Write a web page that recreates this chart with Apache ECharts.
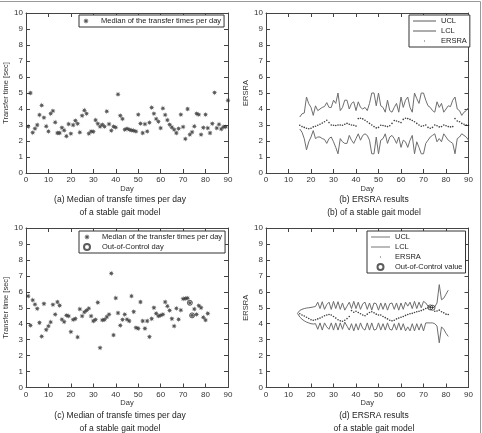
<!DOCTYPE html>
<html>
<head>
<meta charset="utf-8">
<script src="https://cdn.jsdelivr.net/npm/echarts@6/dist/echarts.min.js"></script>
<style>
html, body { margin: 0; padding: 0; background: #fff; }
#chart { width: 482px; height: 433px; }
</style>
</head>
<body>
<div id="chart"></div>
<script>
// (a) median transfer time per day, days 1..90
var medianA = [2.9, 5.0, 2.52, 2.77, 3.0, 3.63, 4.23, 3.46, 2.92, 2.6,
	3.71, 3.88, 3.17, 2.5, 2.5, 2.83, 2.67, 2.3, 3.06, 2.46,
	3.0, 3.27, 3.08, 2.54, 3.58, 3.92, 3.71, 2.46, 2.6, 2.58,
	3.31, 3.08, 2.9, 3.02, 2.9, 3.85, 3.06, 2.65, 2.9, 2.85,
	4.92, 3.58, 3.38, 2.71, 2.77, 2.71, 2.67, 2.65, 2.6, 3.65,
	3.09, 2.5, 3.06, 2.6, 3.15, 4.09, 3.71, 3.38, 3.21, 2.81,
	4.04, 3.63, 3.31, 3.02, 2.86, 2.71, 2.5, 2.77, 3.65, 2.88,
	2.13, 4.0, 2.4, 2.56, 2.92, 3.71, 3.65, 2.4, 2.83, 3.65,
	2.81, 2.5, 3.08, 5.02, 2.81, 3.04, 2.75, 2.88, 2.88, 4.54];
var startA = 1;

// (b) ERSRA results, days 15..90
var startB = 15;
var uclB = [3.5, 3.7, 3.75, 4.75, 4.33, 4.1, 3.6, 4.2, 3.9, 4.0,
	4.1, 4.15, 4.4, 4.1, 4.1, 4.55, 4.35, 5.0, 3.9, 4.1,
	4.55, 4.55, 4.0, 4.35, 4.45, 3.9, 4.45, 4.1, 4.0, 4.1,
	3.9, 4.35, 5.0, 5.0, 4.2, 5.0, 4.2, 4.1, 3.8, 4.55,
	3.9, 3.8, 4.1, 4.35, 3.8, 4.75, 4.1, 4.55, 4.75, 4.1,
	3.8, 5.0, 4.65, 4.35, 5.0, 5.0, 4.55, 4.2, 4.1, 3.9,
	3.8, 4.45, 4.1, 4.35, 3.8, 4.0, 4.2, 4.15, 4.55, 4.75,
	4.0, 3.9, 3.6, 3.8, 3.9, 4.1];
var lclB = [2.75, 2.55, 2.15, 1.45, 1.95, 2.25, 2.65, 2.15, 2.25, 2.25,
	2.15, 2.1, 1.85, 2.15, 2.25, 1.95, 1.6, 1.2, 2.15, 1.95,
	1.85, 1.85, 2.35, 2.05, 1.85, 2.15, 2.45, 2.05, 2.35, 2.45,
	2.35, 2.05, 1.2, 1.2, 2.25, 1.2, 2.05, 2.15, 2.45, 1.85,
	2.25, 2.35, 2.15, 1.85, 2.25, 1.6, 2.05, 1.95, 1.6, 2.05,
	2.35, 1.2, 1.95, 1.6, 1.2, 1.2, 1.85, 2.05, 2.25, 2.35,
	2.45, 1.95, 2.15, 1.95, 2.45, 2.25, 2.05, 1.95, 1.85, 1.2,
	2.15, 2.25, 2.45, 2.35, 2.25, 2.05];
var ersraB = [2.98, 2.9, 2.85, 2.8, 2.77, 2.8, 2.88, 2.92, 2.98, 3.05,
	3.12, 3.2, 3.3, 3.15, 3.0, 2.98, 2.97, 3.0, 3.0, 2.98,
	3.05, 3.1, 3.05, 3.0, 2.98, 2.93, 3.4, 3.42, 3.38, 3.3,
	3.2, 3.1, 3.0, 2.9, 2.82, 2.85, 2.98, 2.97, 2.93, 2.9,
	2.95, 3.1, 3.28, 3.25, 3.2, 3.15, 3.35, 3.42, 3.4, 3.35,
	3.28, 3.2, 3.1, 3.0, 2.92, 2.95, 3.0, 2.85, 2.8, 2.85,
	3.0, 2.95, 2.88, 2.9, 3.0, 2.95, 2.9, 2.88, 2.9, 3.4,
	3.25, 3.2, 3.1, 3.05, 3.0, 2.98];

// (c) median transfer time per day, days 1..81
var startC = 1;
var medianC = [5.73, 3.89, 5.48, 5.21, 4.94, 4.06, 3.2, 5.25, 3.62, 3.85,
	4.1, 5.19, 4.58, 5.36, 5.14, 4.27, 4.12, 4.52, 4.48, 3.49,
	4.25, 4.31, 3.16, 4.92, 4.48, 4.73, 4.83, 4.96, 4.48, 4.17,
	4.25, 5.33, 2.49, 4.23, 4.25, 4.42, 4.58, 7.15, 3.29, 5.61,
	4.67, 3.89, 4.25, 4.58, 4.27, 4.17, 5.73, 4.75, 3.75, 3.7,
	5.36, 4.17, 3.7, 4.17, 3.18, 4.31, 5.0, 4.64, 4.48, 4.52,
	4.58, 5.36, 5.1, 4.83, 4.31, 3.85, 4.96, 4.27, 4.85, 5.56,
	5.58, 5.6, 5.31, 4.52, 4.92, 4.58, 5.13, 5.0, 4.4, 4.23,
	4.64];
var outDaysC = [73, 74];
var outValuesC = [5.31, 4.52];

// (d) ERSRA results, limits days 14..81, ERSRA days 15..81
var startLimD = 14;
var uclD = [4.65, 4.83, 4.9, 4.95, 4.98, 5.0, 5.02, 5.05, 5.08, 5.35,
	4.95, 5.38, 4.9, 5.2, 5.35, 4.9, 5.4, 4.95, 5.38, 4.9,
	5.3, 4.85, 5.1, 5.35, 4.95, 5.4, 4.95, 5.35, 4.9, 5.25,
	5.35, 4.9, 5.3, 4.85, 5.3, 5.25, 4.85, 5.3, 4.9, 5.3,
	4.85, 5.25, 5.3, 4.9, 5.3, 4.85, 5.3, 4.9, 5.35, 5.1,
	5.35, 4.95, 5.4, 4.95, 5.35, 5.0, 5.4, 5.3, 5.1, 5.05,
	5.0, 5.05, 5.3, 6.45, 5.5, 5.6, 5.85, 6.1];
var lclD = [4.65, 4.42, 4.28, 4.18, 4.1, 4.05, 4.0, 3.98, 4.0, 3.65,
	4.05, 3.6, 4.05, 3.8, 3.65, 4.05, 3.6, 4.05, 3.6, 4.05,
	3.65, 4.1, 3.85, 3.6, 4.0, 3.55, 4.0, 3.6, 4.05, 3.7,
	3.6, 4.05, 3.6, 4.05, 3.6, 3.65, 4.05, 3.6, 4.0, 3.6,
	4.05, 3.65, 3.6, 4.0, 3.6, 4.05, 3.6, 4.0, 3.55, 3.8,
	3.55, 4.0, 3.55, 4.0, 3.6, 4.0, 3.55, 4.05, 4.05, 4.05,
	4.05, 4.0, 3.85, 2.8, 3.8, 3.65, 3.4, 3.2];
var startD = 15;
var ersraD = [4.62, 4.55, 4.48, 4.4, 4.33, 4.25, 4.22, 4.25, 4.3, 4.35,
	4.42, 4.5, 4.55, 4.58, 4.55, 4.45, 4.35, 4.25, 4.18, 4.15,
	4.22, 4.32, 4.45, 4.82, 4.72, 4.78, 4.7, 4.62, 4.55, 4.5,
	4.6, 4.7, 4.75, 4.68, 4.6, 4.55, 4.55, 4.45, 4.38, 4.3,
	4.22, 4.18, 4.22, 4.3, 4.35, 4.4, 4.45, 4.52, 4.58, 4.62,
	4.65, 4.7, 4.75, 4.78, 4.82, 4.88, 4.95, 5.0, 5.02, 5.0,
	4.78, 4.8, 4.85, 4.75, 4.68, 4.6, 4.58];
var outDaysD = [73, 74];
var outValuesD = [5.02, 5.0];

var FONT = 'Liberation Sans';
var AX = '#444';
var LINE = '#6e6e6e';
var PT = '#2e2e2e';
var starPath = 'path://M10,0L4.16,1.72L7.07,7.07L1.72,4.16L0,10L-1.72,4.16L-7.07,7.07L-4.16,1.72L-10,0L-4.16,-1.72L-7.07,-7.07L-1.72,-4.16L0,-10L1.72,-4.16L7.07,-7.07L4.16,-1.72Z';
var dotPath = 'path://M0,0L0,0M10,10L10,10M4.3,4.3L5.7,4.3L5.7,5.7L4.3,5.7Z';
var dashPath = 'path://M0,0L20,0L20,1L0,1Z';

function pairs(start, arr) {
	return arr.map(function (v, i) { return [start + i, v]; });
}
function zip(xs, ys) {
	return xs.map(function (x, i) { return [x, ys[i]]; });
}

var grids = [
	{left: 26, top: 13, width: 202, height: 160},
	{left: 266, top: 13, width: 202.5, height: 160},
	{left: 26, top: 228, width: 202, height: 159.5},
	{left: 266, top: 228, width: 202.5, height: 159.5}
];
var yNames = ['Transfer time [sec]', 'ERSRA', 'Transfer time [sec]', 'ERSRA'];

var xAxes = [], yAxes = [];
grids.forEach(function (g, i) {
	var tick = {show: true, inside: true, length: 4, lineStyle: {color: AX, width: 1}};
	var line = {show: true, onZero: false, lineStyle: {color: AX, width: 1}};
	xAxes.push({
		gridIndex: i, type: 'value', min: 0, max: 90, interval: 10, position: 'bottom',
		axisLine: line, axisTick: tick, splitLine: {show: false},
		axisLabel: {fontSize: 8, color: '#333', margin: 3, fontFamily: FONT},
		name: 'Day', nameLocation: 'middle', nameGap: 10,
		nameTextStyle: {fontSize: 7.5, color: '#333', fontFamily: FONT}
	});
	xAxes.push({
		gridIndex: i, type: 'value', min: 0, max: 90, interval: 10, position: 'top',
		axisLine: line, axisTick: tick, splitLine: {show: false}, axisLabel: {show: false}
	});
	yAxes.push({
		gridIndex: i, type: 'value', min: 0, max: 10, interval: 1, position: 'left',
		axisLine: line, axisTick: tick, splitLine: {show: false},
		axisLabel: {fontSize: 8, color: '#333', margin: 3, fontFamily: FONT},
		name: yNames[i], nameLocation: 'middle', nameGap: 14,
		nameTextStyle: {fontSize: 7.5, color: '#333', fontFamily: FONT}
	});
	yAxes.push({
		gridIndex: i, type: 'value', min: 0, max: 10, interval: 1, position: 'right',
		axisLine: line, axisTick: tick, splitLine: {show: false}, axisLabel: {show: false}
	});
});

function onGrid(i, s) {
	s.xAxisIndex = 2 * i;
	s.yAxisIndex = 2 * i;
	s.animation = false;
	return s;
}
function starSeries(i, data) {
	return onGrid(i, {name: 'Median of the transfer times per day', type: 'scatter', data: data,
		symbol: starPath, symbolSize: 5.5, itemStyle: {color: PT}});
}
function limitSeries(i, name, data) {
	return onGrid(i, {name: name, type: 'line', data: data, symbol: 'none', showSymbol: false,
		lineStyle: {color: LINE, width: 1}, itemStyle: {color: LINE}});
}
function dotSeries(i, data) {
	return onGrid(i, {name: 'ERSRA', type: 'scatter', data: data, symbol: 'circle', symbolSize: 1.6,
		itemStyle: {color: '#111'}, z: 3});
}
function circleSeries(i, name, data) {
	return onGrid(i, {name: name, type: 'scatter', data: data, symbol: 'circle', symbolSize: 5,
		itemStyle: {color: 'rgba(0,0,0,0)', borderColor: '#333', borderWidth: 1}, z: 4});
}

var series = [
	starSeries(0, pairs(startA, medianA)),
	limitSeries(1, 'UCL', pairs(startB, uclB)),
	limitSeries(1, 'LCL', pairs(startB, lclB)),
	dotSeries(1, pairs(startB, ersraB)),
	starSeries(2, pairs(startC, medianC)),
	circleSeries(2, 'Out-of-Control day', zip(outDaysC, outValuesC)),
	limitSeries(3, 'UCL', pairs(startLimD, uclD)),
	limitSeries(3, 'LCL', pairs(startLimD, lclD)),
	dotSeries(3, pairs(startD, ersraD)),
	circleSeries(3, 'Out-of-Control value', zip(outDaysD, outValuesD))
];

function legendBox(left, top, items, itemWidth) {
	return {
		left: left, top: top, orient: 'vertical', selectedMode: false,
		data: items, itemWidth: itemWidth, itemHeight: 6, itemGap: 2,
		padding: [2, 3, 2, 4], borderColor: '#333', borderWidth: 1, borderRadius: 0,
		backgroundColor: '#fff',
		textStyle: {fontSize: 7.5, color: '#222', fontFamily: FONT, lineHeight: 8}
	};
}
var legends = [
	legendBox(79, 15, [{name: 'Median of the transfer times per day', icon: starPath}], 20),
	legendBox(409, 15, [{name: 'UCL', icon: dashPath}, {name: 'LCL', icon: dashPath},
		{name: 'ERSRA', icon: dotPath}], 23),
	legendBox(79, 231, [{name: 'Median of the transfer times per day', icon: starPath},
		{name: 'Out-of-Control day', icon: 'circle'}], 20),
	legendBox(367, 231, [{name: 'UCL', icon: dashPath}, {name: 'LCL', icon: dashPath},
		{name: 'ERSRA', icon: dotPath}, {name: 'Out-of-Control value', icon: 'circle'}], 19)
];

var captions = [
	['(a) Median of transfe times per day', 'of a stable gait model', 120, 200],
	['(b) ERSRA results', '(b) of a stable gait model', 374, 200],
	['(c) Median of transfe times per day', 'of a stable gait model', 120, 416],
	['(d) ERSRA results', 'of a stable gait model', 374, 416]
];
var graphics = [
	{type: 'line', shape: {x1: 0, y1: 1.5, x2: 480.5, y2: 1.5}, style: {stroke: '#999', lineWidth: 1}},
	{type: 'line', shape: {x1: 480.5, y1: 1.5, x2: 480.5, y2: 433}, style: {stroke: '#999', lineWidth: 1}}
];
captions.forEach(function (c) {
	[0, 1].forEach(function (k) {
		graphics.push({type: 'text', x: c[2], y: c[3] + k * 13,
			style: {text: c[k], fill: '#222', font: '8.5px "' + FONT + '"',
				textAlign: 'center', textVerticalAlign: 'middle'}});
	});
});

var chart = echarts.init(document.getElementById('chart'), null, {renderer: 'canvas'});
var option = {
	backgroundColor: '#fff',
	animation: false,
	grid: grids,
	xAxis: xAxes,
	yAxis: yAxes,
	legend: legends,
	series: series,
	graphic: graphics
};
chart.setOption(option);
</script>
</body>
</html>
